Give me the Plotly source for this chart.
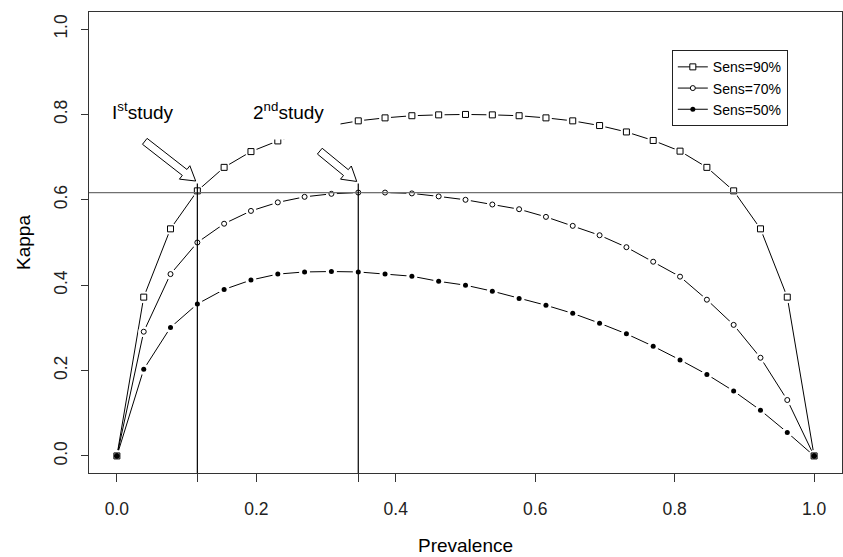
import math
import plotly.graph_objects as go

# ---------------- data ----------------
prevalence = [0.0, 0.0385, 0.0769, 0.1154, 0.1538, 0.1923, 0.2308, 0.2692, 0.3077,
              0.3462, 0.3846, 0.4231, 0.4615, 0.5, 0.5385, 0.5769, 0.6154, 0.6538,
              0.6923, 0.7308, 0.7692, 0.8077, 0.8462, 0.8846, 0.9231, 0.9615, 1.0]

kappa_sens90 = [0, 0.372, 0.532, 0.621, 0.676, 0.713, 0.738, 0.759, 0.774, 0.785, 0.792,
                0.797, 0.799, 0.800, 0.799, 0.797, 0.792, 0.785, 0.774, 0.759, 0.739,
                0.714, 0.676, 0.621, 0.532, 0.372, 0]
kappa_sens70 = [0, 0.291, 0.426, 0.500, 0.544, 0.574, 0.594, 0.607, 0.614, 0.617, 0.617,
                0.615, 0.608, 0.600, 0.589, 0.578, 0.560, 0.539, 0.517, 0.489, 0.455,
                0.420, 0.366, 0.307, 0.230, 0.131, 0]
kappa_sens50 = [0, 0.203, 0.301, 0.356, 0.390, 0.412, 0.426, 0.431, 0.432, 0.431, 0.426,
                0.421, 0.409, 0.400, 0.386, 0.369, 0.353, 0.334, 0.311, 0.286, 0.257,
                0.225, 0.191, 0.152, 0.107, 0.055, 0]

series_names = ["Sens=90%", "Sens=70%", "Sens=50%"]

kappa_ref = 0.617
study_prev = [0.1154, 0.3462]
study_line_top = 0.638
study_labels = ["I<sup>st</sup>study", "2<sup>nd</sup>study"]
study_label_x = [0.037, 0.246]
study_label_y = [0.808, 0.808]

arrow_tail_x = [0.040, 0.291]
arrow_tail_y = [0.737, 0.714]
arrow_tip_x = [0.113, 0.344]
arrow_tip_y = [0.644, 0.643]

x_ticks = [0, 0.2, 0.4, 0.6, 0.8, 1.0]
x_tick_text = ["0.0", "0.2", "0.4", "0.6", "0.8", "1.0"]
y_ticks = [0, 0.2, 0.4, 0.6, 0.8, 1.0]
y_tick_text = ["0.0", "0.2", "0.4", "0.6", "0.8", "1.0"]

# ---------------- layout constants ----------------
W, H = 843, 557
ML, MR, MT, MB = 89, 1, 12, 84
XR = [-0.04, 1.04]
YR = [-0.04, 1.04]
FONT = "Liberation Sans, Arial, Helvetica, sans-serif"
sx = (W - ML - MR) / (XR[1] - XR[0])
sy = (H - MT - MB) / (YR[1] - YR[0])

fig = go.Figure()

styles = [
    dict(symbol="square", size=6, color="white", line=dict(color="black", width=1)),
    dict(symbol="circle", size=5, color="white", line=dict(color="black", width=1)),
    dict(symbol="circle", size=5, color="black", line=dict(color="black", width=0)),
]
all_series = [kappa_sens90, kappa_sens70, kappa_sens50]

# lines (legend entries)
for name, ys, st in zip(series_names, all_series, styles):
    fig.add_trace(go.Scatter(x=prevalence, y=ys, mode="lines+markers", name=name,
                             line=dict(color="black", width=1), marker=st,
                             cliponaxis=False))
# white gaps around points (R type="b")
for ys, st in zip(all_series, styles):
    fig.add_trace(go.Scatter(x=prevalence, y=ys, mode="markers", showlegend=False,
                             hoverinfo="skip",
                             marker=dict(symbol="circle", size=st["size"] + 6,
                                         color="white", line=dict(width=0))))
# markers on top
for ys, st in zip(all_series, styles):
    fig.add_trace(go.Scatter(x=prevalence, y=ys, mode="markers", showlegend=False,
                             marker=st))

shapes = []
# horizontal reference line
shapes.append(dict(type="line", xref="paper", yref="y", x0=0, x1=1, y0=kappa_ref,
                   y1=kappa_ref, line=dict(color="#707070", width=1.3), layer="above"))
# vertical study lines
for xp in study_prev:
    shapes.append(dict(type="line", xref="x", yref="y", x0=xp, x1=xp, y0=YR[0],
                       y1=study_line_top, line=dict(color="black", width=1.2),
                       layer="above"))


def block_arrow(x0, y0, x1, y1, shaft_w=7.5, head_w=17.0, head_len=14.0):
    # work in pixel-like units (y up)
    X0, Y0, X1, Y1 = x0 * sx, y0 * sy, x1 * sx, y1 * sy
    dx, dy = X1 - X0, Y1 - Y0
    L = math.hypot(dx, dy)
    ux, uy = dx / L, dy / L
    px, py = -uy, ux
    bx, by = X1 - ux * head_len, Y1 - uy * head_len
    pts = [
        (X0 + px * shaft_w / 2, Y0 + py * shaft_w / 2),
        (bx + px * shaft_w / 2, by + py * shaft_w / 2),
        (bx + px * head_w / 2, by + py * head_w / 2),
        (X1, Y1),
        (bx - px * head_w / 2, by - py * head_w / 2),
        (bx - px * shaft_w / 2, by - py * shaft_w / 2),
        (X0 - px * shaft_w / 2, Y0 - py * shaft_w / 2),
    ]
    return "M " + " L ".join(f"{a / sx:.5f},{b / sy:.5f}" for a, b in pts) + " Z"


for tx, ty, hx, hy in zip(arrow_tail_x, arrow_tail_y, arrow_tip_x, arrow_tip_y):
    shapes.append(dict(type="path", xref="x", yref="y", path=block_arrow(tx, ty, hx, hy),
                       line=dict(color="black", width=1), fillcolor="white",
                       layer="above"))

annotations = []
for i, (txt, ax_, ay_) in enumerate(zip(study_labels, study_label_x, study_label_y)):
    annotations.append(dict(x=ax_, y=ay_, xref="x", yref="y", text=txt, showarrow=False,
                            font=dict(family=FONT, size=19, color="black"),
                            bgcolor="white" if i == 1 else None,
                            borderpad=16 if i == 1 else 1))

fig.update_layout(
    width=W, height=H,
    margin=dict(l=ML, r=MR, t=MT, b=MB, autoexpand=False),
    paper_bgcolor="white", plot_bgcolor="white",
    font=dict(family=FONT, color="black"),
    shapes=shapes, annotations=annotations,
    showlegend=True,
    legend=dict(x=0.774, y=0.917, xanchor="left", yanchor="top",
                bgcolor="white", bordercolor="#222222", borderwidth=1,
                font=dict(family=FONT, size=14, color="black"),
                itemwidth=30, tracegroupgap=0),
    xaxis=dict(range=XR, showgrid=False, zeroline=False, showline=True, mirror=True,
               automargin=False,
               linecolor="#333333", linewidth=1, ticks="outside", ticklen=8,
               tickcolor="#333333",
               tickvals=x_ticks + study_prev, ticktext=x_tick_text + ["", ""],
               tickfont=dict(family=FONT, size=17.5, color="#222222"),
               ticklabelstandoff=12,
               title=dict(text="Prevalence", font=dict(family=FONT, size=19),
                          standoff=20)),
    yaxis=dict(range=YR, showgrid=False, zeroline=False, showline=True, mirror=True,
               automargin=False,
               linecolor="#333333", linewidth=1, ticks="outside", ticklen=7,
               tickcolor="#333333",
               tickvals=y_ticks, ticktext=y_tick_text, tickangle=-90,
               tickfont=dict(family=FONT, size=17.5, color="#222222"),
               ticklabelstandoff=7,
               title=dict(text="Kappa", font=dict(family=FONT, size=19),
                          standoff=15)),
)

fig.write_html("out.html",
               config={"displayModeBar": False},
               post_script="document.body.style.margin='0';"
                           "document.body.style.overflow='hidden';")
